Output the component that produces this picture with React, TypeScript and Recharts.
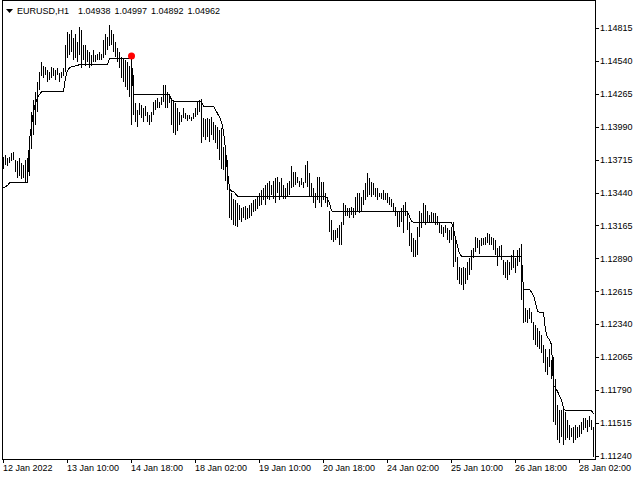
import React from 'react';
import { ComposedChart, Bar, Line, XAxis, YAxis, ReferenceDot } from 'recharts';

const FONT = '"Liberation Sans", Arial, sans-serif';

// Hourly bar highs (EURUSD H1), bar 0 = 12 Jan 2022 02:00
const high = [
  1.1374,1.1375,1.1373,1.1374,1.1377,1.1378,1.1371,1.1370,1.1373,1.1369,
  1.1367,1.1371,1.1373,1.1390,1.1411,1.1421,1.1428,1.1436,1.1445,1.1453,
  1.1450,1.1449,1.1446,1.1445,1.1449,1.1448,1.1446,1.1448,1.1444,1.1445,
  1.1448,1.1467,1.1478,1.1476,1.1480,1.1473,1.1476,1.1470,1.1482,1.1480,
  1.1467,1.1467,1.1463,1.1461,1.1459,1.1463,1.1459,1.1460,1.1461,1.1460,
  1.1471,1.1476,1.1474,1.1484,1.1480,1.1476,1.1470,1.1465,1.1461,1.1457,
  1.1456,1.1455,1.1453,1.1450,1.1458,1.1442,1.1419,1.1413,1.1419,1.1417,
  1.1415,1.1416,1.1411,1.1409,1.1411,1.1420,1.1421,1.1423,1.1420,1.1424,
  1.1434,1.1434,1.1428,1.1425,1.1423,1.1421,1.1419,1.1415,1.1411,1.1409,
  1.1415,1.1410,1.1409,1.1409,1.1407,1.1410,1.1415,1.1420,1.1421,1.1422,
  1.1406,1.1405,1.1406,1.1405,1.1407,1.1403,1.1400,1.1399,1.1396,1.1398,
  1.1382,1.1380,1.1371,1.1350,1.1344,1.1339,1.1338,1.1335,1.1334,1.1331,
  1.1332,1.1333,1.1331,1.1334,1.1335,1.1338,1.1339,1.1341,1.1344,1.1346,
  1.1348,1.1350,1.1352,1.1354,1.1350,1.1354,1.1356,1.1357,1.1353,1.1356,
  1.1350,1.1348,1.1352,1.1354,1.1366,1.1361,1.1361,1.1357,1.1354,1.1356,
  1.1353,1.1367,1.1370,1.1360,1.1352,1.1348,1.1344,1.1357,1.1357,1.1353,
  1.1353,1.1344,1.1340,1.1329,1.1321,1.1313,1.1313,1.1314,1.1317,1.1319,
  1.1335,1.1334,1.1331,1.1331,1.1332,1.1331,1.1340,1.1344,1.1344,1.1340,
  1.1346,1.1352,1.1360,1.1356,1.1353,1.1352,1.1348,1.1348,1.1344,1.1344,
  1.1346,1.1344,1.1344,1.1340,1.1339,1.1335,1.1332,1.1329,1.1328,1.1331,
  1.1334,1.1336,1.1329,1.1319,1.1310,1.1306,1.1304,1.1315,1.1329,1.1327,
  1.1335,1.1334,1.1329,1.1325,1.1328,1.1327,1.1327,1.1324,1.1319,1.1317,
  1.1315,1.1317,1.1314,1.1313,1.1315,1.1319,1.1307,1.1290,1.1282,1.1281,
  1.1282,1.1281,1.1286,1.1289,1.1296,1.1298,1.1307,1.1306,1.1304,1.1306,
  1.1306,1.1307,1.1310,1.1309,1.1307,1.1306,1.1304,1.1298,1.1299,1.1300,
  1.1288,1.1286,1.1288,1.1286,1.1292,1.1296,1.1289,1.1296,1.1298,1.1301,
  1.1263,1.1248,1.1246,1.1248,1.1244,1.1236,1.1233,1.1231,1.1228,1.1225,
  1.1217,1.1213,1.1207,1.1213,1.1204,1.1207,1.1188,1.1167,1.1162,1.1162,
  1.1164,1.1161,1.1154,1.1150,1.1147,1.1148,1.1150,1.1148,1.1150,1.1152,
  1.1156,1.1156,1.1154,1.1157,1.1154,1.1148,
];

const low = [
  1.1364,1.1367,1.1366,1.1369,1.1370,1.1371,1.1361,1.1356,1.1358,1.1355,
  1.1356,1.1353,1.1359,1.1358,1.1380,1.1392,1.1400,1.1411,1.1430,1.1441,
  1.1440,1.1442,1.1436,1.1438,1.1440,1.1441,1.1438,1.1442,1.1436,1.1440,
  1.1441,1.1445,1.1456,1.1459,1.1461,1.1455,1.1456,1.1453,1.1459,1.1448,
  1.1455,1.1450,1.1453,1.1448,1.1450,1.1453,1.1453,1.1455,1.1455,1.1455,
  1.1456,1.1459,1.1463,1.1466,1.1467,1.1461,1.1457,1.1453,1.1448,1.1440,
  1.1436,1.1432,1.1430,1.1424,1.1400,1.1409,1.1403,1.1399,1.1409,1.1406,
  1.1403,1.1408,1.1403,1.1400,1.1403,1.1409,1.1413,1.1415,1.1415,1.1417,
  1.1420,1.1415,1.1415,1.1419,1.1400,1.1394,1.1392,1.1395,1.1400,1.1403,
  1.1406,1.1405,1.1404,1.1405,1.1404,1.1405,1.1407,1.1409,1.1411,1.1385,
  1.1390,1.1388,1.1390,1.1386,1.1392,1.1388,1.1385,1.1380,1.1371,1.1364,
  1.1363,1.1354,1.1346,1.1323,1.1321,1.1317,1.1316,1.1315,1.1321,1.1319,
  1.1323,1.1321,1.1322,1.1323,1.1324,1.1328,1.1329,1.1330,1.1333,1.1334,
  1.1338,1.1334,1.1339,1.1338,1.1342,1.1339,1.1335,1.1344,1.1338,1.1341,
  1.1339,1.1339,1.1341,1.1342,1.1348,1.1349,1.1350,1.1352,1.1349,1.1350,
  1.1348,1.1352,1.1349,1.1340,1.1340,1.1335,1.1331,1.1338,1.1335,1.1332,
  1.1338,1.1335,1.1332,1.1311,1.1304,1.1303,1.1304,1.1306,1.1300,1.1300,
  1.1317,1.1324,1.1324,1.1323,1.1325,1.1323,1.1325,1.1328,1.1327,1.1329,
  1.1334,1.1338,1.1340,1.1342,1.1340,1.1342,1.1340,1.1338,1.1340,1.1339,
  1.1338,1.1338,1.1335,1.1334,1.1332,1.1329,1.1324,1.1315,1.1315,1.1319,
  1.1310,1.1324,1.1313,1.1299,1.1294,1.1290,1.1290,1.1292,1.1307,1.1314,
  1.1319,1.1317,1.1319,1.1319,1.1319,1.1319,1.1317,1.1317,1.1310,1.1309,
  1.1307,1.1310,1.1304,1.1302,1.1304,1.1282,1.1286,1.1271,1.1268,1.1267,
  1.1263,1.1268,1.1271,1.1275,1.1279,1.1289,1.1294,1.1298,1.1293,1.1299,
  1.1300,1.1300,1.1302,1.1300,1.1300,1.1296,1.1292,1.1283,1.1290,1.1288,
  1.1275,1.1273,1.1271,1.1275,1.1279,1.1281,1.1277,1.1283,1.1286,1.1254,
  1.1235,1.1236,1.1235,1.1238,1.1235,1.1221,1.1217,1.1215,1.1213,1.1210,
  1.1202,1.1194,1.1192,1.1198,1.1188,1.1152,1.1150,1.1137,1.1135,1.1140,
  1.1133,1.1137,1.1139,1.1137,1.1140,1.1135,1.1137,1.1139,1.1140,1.1142,
  1.1146,1.1147,1.1144,1.1148,1.1146,1.1123,
];

// Step / trailing indicator line
const trail = [
  1.1348,1.1349,1.1350,1.1352,1.1352,1.1352,1.1352,1.1352,1.1352,1.1352,
  1.1352,1.1352,1.1352,1.1388,1.1400,1.1411,1.1419,1.1423,1.1426,1.1428,
  1.1428,1.1428,1.1428,1.1428,1.1428,1.1428,1.1428,1.1428,1.1428,1.1428,
  1.1428,1.1440,1.1446,1.1448,1.1449,1.1449,1.1450,1.1450,1.1451,1.1451,
  1.1451,1.1451,1.1451,1.1451,1.1451,1.1451,1.1451,1.1451,1.1451,1.1451,
  1.1451,1.1451,1.1451,1.1456,1.1456,1.1456,1.1456,1.1456,1.1456,1.1456,
  1.1456,1.1456,1.1456,1.1456,1.1456,1.1426,1.1426,1.1426,1.1426,1.1426,
  1.1426,1.1426,1.1426,1.1426,1.1426,1.1426,1.1426,1.1426,1.1426,1.1426,
  1.1426,1.1426,1.1426,1.1426,1.1421,1.1420,1.1420,1.1420,1.1420,1.1420,
  1.1420,1.1420,1.1420,1.1420,1.1420,1.1420,1.1420,1.1420,1.1420,1.1420,
  1.1416,1.1416,1.1416,1.1416,1.1416,1.1416,1.1413,1.1410,1.1407,1.1403,
  1.1395,1.1380,1.1361,1.1348,1.1345,1.1345,1.1343,1.1341,1.1341,1.1341,
  1.1341,1.1341,1.1341,1.1341,1.1341,1.1341,1.1341,1.1341,1.1341,1.1341,
  1.1341,1.1341,1.1341,1.1341,1.1341,1.1341,1.1341,1.1341,1.1341,1.1341,
  1.1341,1.1341,1.1341,1.1341,1.1341,1.1341,1.1341,1.1341,1.1341,1.1341,
  1.1341,1.1341,1.1341,1.1341,1.1341,1.1341,1.1341,1.1341,1.1341,1.1341,
  1.1341,1.1341,1.1339,1.1335,1.1329,1.1328,1.1328,1.1328,1.1328,1.1328,
  1.1328,1.1328,1.1328,1.1328,1.1328,1.1328,1.1328,1.1328,1.1328,1.1328,
  1.1328,1.1328,1.1328,1.1328,1.1328,1.1328,1.1328,1.1328,1.1328,1.1328,
  1.1328,1.1328,1.1328,1.1328,1.1328,1.1328,1.1328,1.1328,1.1328,1.1328,
  1.1328,1.1328,1.1328,1.1324,1.1320,1.1319,1.1319,1.1319,1.1319,1.1319,
  1.1319,1.1319,1.1319,1.1319,1.1319,1.1319,1.1319,1.1319,1.1319,1.1319,
  1.1319,1.1319,1.1319,1.1319,1.1319,1.1314,1.1306,1.1299,1.1293,1.1291,
  1.1291,1.1291,1.1291,1.1291,1.1291,1.1291,1.1291,1.1291,1.1291,1.1291,
  1.1291,1.1291,1.1291,1.1291,1.1291,1.1291,1.1291,1.1291,1.1291,1.1291,
  1.1291,1.1291,1.1291,1.1291,1.1291,1.1291,1.1291,1.1291,1.1291,1.1291,
  1.1263,1.1263,1.1263,1.1263,1.1261,1.1258,1.1252,1.1245,1.1244,1.1244,
  1.1244,1.1229,1.1223,1.1221,1.1217,1.1183,1.1181,1.1178,1.1174,1.1171,
  1.1164,1.1162,1.1162,1.1162,1.1162,1.1162,1.1162,1.1162,1.1162,1.1162,
  1.1162,1.1162,1.1162,1.1162,1.1162,1.1159,
];

const xTickBars = [0, 32, 64, 96, 128, 160, 192, 224, 256, 288];
const xLabels = [
  '12 Jan 2022', '13 Jan 10:00', '14 Jan 18:00', '18 Jan 02:00', '19 Jan 10:00',
  '20 Jan 18:00', '24 Jan 02:00', '25 Jan 10:00', '26 Jan 18:00', '28 Jan 02:00',
];
const yTicks = [
  1.1124, 1.11515, 1.1179, 1.12065, 1.1234, 1.12615, 1.1289,
  1.13165, 1.1344, 1.13715, 1.1399, 1.14265, 1.1454, 1.14815,
];
const symbolTitle = 'EURUSD,H1';
const titleValues = ['1.04938', '1.04997', '1.04892', '1.04962'];
const signalBar = 64;
const signalPrice = 1.1458;

const data = high.map((h, i) => ({ i, range: [low[i], h], trail: trail[i] }));

const XTick = (props: any) => {
  const { x, y, payload } = props;
  const idx = xTickBars.indexOf(payload.value);
  const px = Math.floor(x) + 0.5;
  return (
    <g>
      <line x1={px} x2={px} y1={y - 4} y2={y} stroke="#000" strokeWidth={1} />
      <text x={px - 0.5} y={y + 7.5} fontSize={9} fontFamily={FONT} fill="#000" textAnchor="start">
        {xLabels[idx]}
      </text>
    </g>
  );
};

const YTick = (props: any) => {
  const { x, y, payload } = props;
  const py = Math.round(y) + 0.5;
  return (
    <g>
      <line x1={x - 4} x2={x - 1} y1={py} y2={py} stroke="#000" strokeWidth={1} />
      <text x={x} y={y + 3.2} fontSize={9} fontFamily={FONT} fill="#000" textAnchor="start">
        {Number(payload.value).toFixed(5)}
      </text>
    </g>
  );
};

export default function App() {
  return (
    <div style={{ position: 'absolute', left: 0, top: 0, width: 640, height: 480, background: '#fff' }}>
      <style>{`
        .recharts-rectangle { shape-rendering: crispEdges; }
        .recharts-line-curve { shape-rendering: crispEdges; }
      `}</style>
      <ComposedChart
        width={640}
        height={480}
        data={data}
        margin={{ top: 2, right: 0, bottom: 0, left: 2 }}
        barCategoryGap={0}
        barGap={0}
      >
        <XAxis
          dataKey="i"
          type="number"
          domain={[-0.75, 295.75]}
          ticks={xTickBars}
          interval={0}
          height={21}
          axisLine={false}
          tickLine={false}
          tickSize={4}
          tickMargin={0}
          tick={<XTick />}
          allowDataOverflow
        />
        <YAxis
          orientation="right"
          type="number"
          domain={[1.11215, 1.15031]}
          ticks={yTicks}
          interval={0}
          width={45}
          axisLine={false}
          tickLine={false}
          tickSize={4}
          tickMargin={1}
          tick={<YTick />}
          allowDataOverflow
        />
        <Bar dataKey="range" barSize={1} fill="#000" isAnimationActive={false} />
        <Line
          dataKey="trail"
          type="linear"
          stroke="#000"
          strokeWidth={1}
          dot={false}
          activeDot={false}
          isAnimationActive={false}
        />
        <ReferenceDot x={signalBar} y={signalPrice} r={3.5} fill="#ff0000" stroke="none" ifOverflow="visible" />
      </ComposedChart>
      <svg
        width={640}
        height={480}
        style={{ position: 'absolute', left: 0, top: 0, pointerEvents: 'none' }}
      >
        <rect x={2.5} y={0.5} width={593} height={459} fill="none" stroke="#000" strokeWidth={1} shapeRendering="crispEdges" />
        <polygon points="6,9 13,9 9.5,13" fill="#000" />
        <text x={17} y={14} fontSize={9} fontFamily={FONT} fill="#000">{symbolTitle}</text>
        {titleValues.map((v, k) => (
          <text key={v} x={78 + k * 36.5} y={14} fontSize={9} fontFamily={FONT} fill="#000">{v}</text>
        ))}
      </svg>
    </div>
  );
}
